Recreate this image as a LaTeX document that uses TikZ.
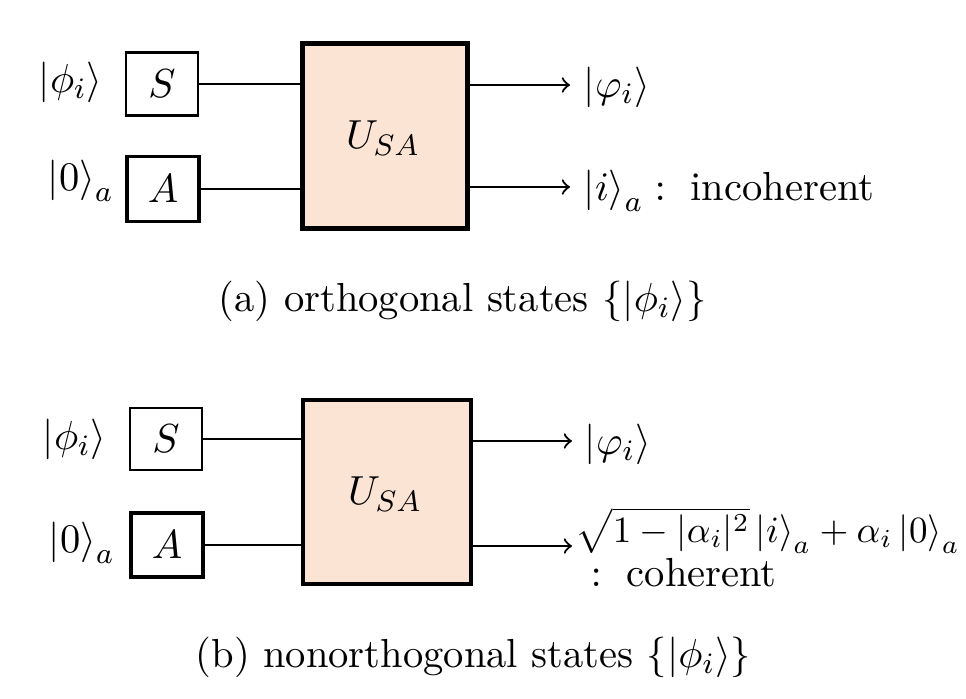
\documentclass[tikz,border=0pt]{standalone}
\usepackage{amsmath}
\definecolor{peach}{RGB}{252,228,212}
\begin{document}
\begin{tikzpicture}[x=0.27pt,y=-0.27pt,
  every node/.style={font=\fontsize{10.95pt}{13.6pt}\selectfont},
  box/.style={draw, line width=0.8pt, inner sep=0pt},
  ubox/.style={draw, line width=1.1pt, fill=peach, inner sep=0pt},
  wire/.style={line width=0.6pt},
  arr/.style={wire,->},
  lab/.style={inner sep=0pt, anchor=base west}]
\useasboundingbox (0,0) rectangle (966,698);
% ---------- panel (a)
\node[box, minimum width=72*0.27pt, minimum height=63*0.27pt] (S1) at (162,84) {$S$};
\node[box, line width=1pt, minimum width=72*0.27pt, minimum height=65*0.27pt] (A1) at (163,189) {$A$};
\node[ubox, minimum width=165*0.27pt, minimum height=185*0.27pt] (U1) at (385,136) {};
\node (U1t) at (383,138) {$U_{SA}$};
\node[lab] (l1) at (38,92) {$|\phi_i\rangle$};
\node[lab] (l2) at (47,190) {$\left|0\right\rangle_a$};
\coordinate (o1) at (570,85);
\coordinate (o2) at (570,187);
\draw[wire] (S1.east) -- (S1.east -| U1.west);
\draw[wire] (A1.east) -- (A1.east -| U1.west);
\draw[arr] (U1.east |- o1) -- (o1);
\draw[arr] (U1.east |- o2) -- (o2);
\node[lab] (r1) at (583,97) {$|\varphi_i\rangle$};
\node[lab] (r2) at (583,200) {$\left|i\right\rangle_a:\;$ incoherent};
\node[lab] (capa) at (218,311) {(a) orthogonal states $\{|\phi_i\rangle\}$};
% ---------- panel (b)
\node[box, minimum width=72*0.27pt, minimum height=62*0.27pt] (S2) at (166,439) {$S$};
\node[box, line width=1pt, minimum width=72*0.27pt, minimum height=64*0.27pt] (A2) at (167,545) {$A$};
\node[ubox, minimum width=168*0.27pt, minimum height=184*0.27pt] (U2) at (387,492) {};
\node (U2t) at (385,494) {$U_{SA}$};
\node[lab] (l3) at (42,449) {$|\phi_i\rangle$};
\node[lab] (l4) at (48,552) {$\left|0\right\rangle_a$};
\coordinate (o3) at (572,441);
\coordinate (o4) at (572,546);
\draw[wire] (S2.east) -- (S2.east -| U2.west);
\draw[wire] (A2.east) -- (A2.east -| U2.west);
\draw[arr] (U2.east |- o3) -- (o3);
\draw[arr] (U2.east |- o4) -- (o4);
\node[lab] (r3) at (584,454) {$|\varphi_i\rangle$};
\node[lab, font=\fontsize{10pt}{12pt}\selectfont] (r4) at (575,542) {$\sqrt{1-|\alpha_i|^2}\left|i\right\rangle_a+\alpha_i\left|0\right\rangle_a$};
\node[lab] (r5) at (590,586) {$:\;$ coherent};
\node[lab] (capb) at (195,667) {(b) nonorthogonal states $\{|\phi_i\rangle\}$};
\end{tikzpicture}
\end{document}
